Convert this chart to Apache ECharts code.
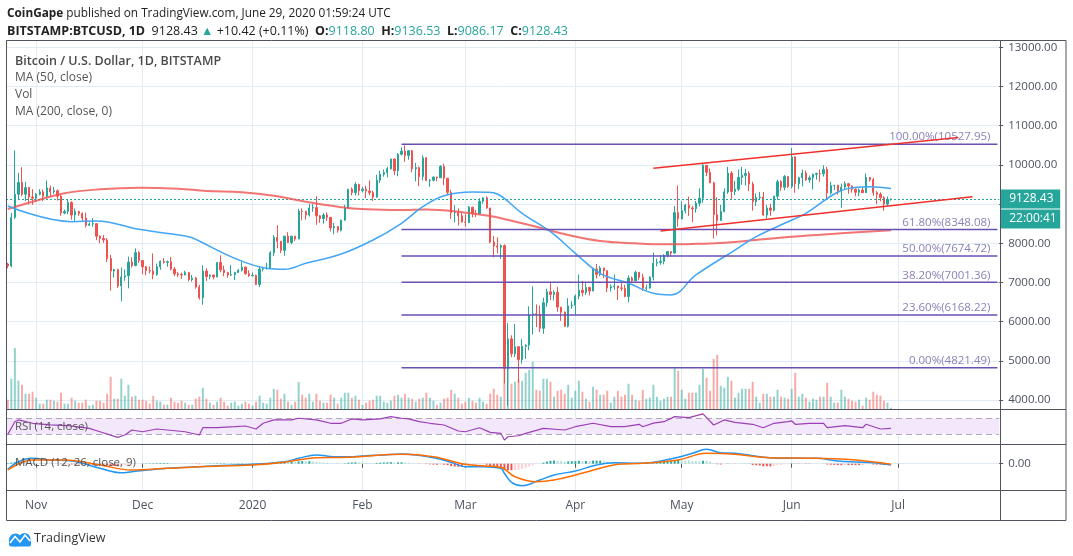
<!DOCTYPE html>
<html>
<head>
<meta charset="utf-8">
<title>BITSTAMP:BTCUSD 1D</title>
<script src="https://cdn.jsdelivr.net/npm/echarts@6.0.0/dist/echarts.min.js"></script>
<style>
html,body{margin:0;padding:0;background:#fff;}
#chart{width:1073px;height:556px;}
</style>
</head>
<body>
<div id="chart"></div>
<script>
// ---------------- data ----------------
const firstDay = '2019-10-24';
const lastDay = '2020-07-29';

const open = [
 7470,7420,8660,9250,9550,9250,9420,9180,
 9150,9250,9310,9200,9410,9310,9340,9200,8770,8810,9040,8720,8810,8760,8640,8460,8490,8500,8180,8120,8080,7610,7290,7330,6910,7140,7170,7520,7430,7760,
 7560,7400,7300,7290,7200,7400,7540,7510,7530,7340,7220,7200,7190,7250,7070,7110,6880,6610,7290,7150,7190,7140,7510,7320,7250,7190,7200,7250,7310,7390,7220,
 7170,7180,6950,7340,7350,7360,7760,8150,8050,7820,8180,8020,8180,8110,8820,8810,8720,8900,8910,8700,8630,8720,8660,8390,8430,8330,8590,8900,9380,9290,9500,
 9340,9380,9330,9290,9180,9610,9760,9800,9900,10150,9850,10270,10350,10240,10360,9900,9930,9700,10180,9600,9610,9690,9670,9960,9660,9300,8780,8790,8700,
 8540,8530,8920,8760,8750,9070,9160,8900,8030,7930,7900,7940,4800,5560,5180,5360,5030,5370,5400,6170,6200,6190,5830,6480,6760,6690,6750,6370,6240,5880,6400,
 6420,6650,6800,6740,6870,6780,7340,7200,7370,7300,6860,6890,6910,6860,6850,6640,7110,7040,7260,7130,6850,6860,7130,7490,7510,7540,7690,7790,7750,8780,
 8620,8830,8970,8900,8880,9020,9150,9990,9810,9540,8730,8580,8810,9310,9790,9320,9380,9680,9730,9780,9510,9060,9170,9180,8720,8900,8840,9200,9570,9430,9700,
 9450,10200,9520,9670,9790,9620,9670,9760,9780,9770,9880,9280,9470,9480,9340,9430,9520,9460,9380,9300,9360,9290,9680,9620,9290,9250,9160,9000,9118.8
];
const high = [
 7500,8770,10370,9800,9940,9560,9440,9380,
 9280,9380,9370,9600,9470,9440,9370,9240,8860,9130,9070,8880,8830,8790,8780,8530,8640,8500,8200,8210,8130,7700,7350,7350,7380,7330,7660,7640,7870,7800,
 7560,7420,7410,7740,7480,7560,7620,7560,7650,7390,7270,7250,7300,7270,7190,7140,6940,7440,7360,7200,7190,7510,7690,7430,7270,7440,7270,7340,7520,7410,7310,
 7250,7200,7410,7400,7500,7800,8210,8460,8050,8190,8280,8190,8190,8880,8890,8830,9000,9000,9200,8720,8770,8790,8670,8520,8430,8600,8980,9380,9420,9560,9520,
 9440,9470,9600,9340,9750,9850,9880,9950,10150,10160,10300,10450,10500,10380,10380,10050,9960,10240,10200,9640,9700,9700,9990,10030,9660,9360,8970,8890,8780,
 8740,8950,8930,8850,9150,9170,9200,8900,8180,8150,7970,7970,5960,5650,5940,5380,5550,5420,6390,6900,6440,6410,6610,6840,6980,6800,6880,6370,6260,6600,6520,
 6690,7200,7040,6980,6890,7370,7470,7420,7370,7310,6950,7200,6910,6980,6940,7180,7150,7300,7260,7220,6950,7160,7760,7610,7700,7720,7800,7790,8950,9470,
 9070,9000,9190,8950,9080,9400,10040,10000,9910,9570,9170,8980,9400,9950,9840,9590,9880,9950,9900,9840,9570,9270,9310,9310,8980,9010,9210,9620,9610,9740,9700,
 10430,10220,9690,9880,9860,9730,9780,9800,9880,9990,9950,9560,9490,9490,9520,9580,9540,9480,9400,9400,9430,9780,9690,9670,9330,9300,9200,9190,9136.53
];
const low = [
 7360,7390,8620,9120,9200,9080,8990,8980,
 9050,9220,9080,9150,9180,9260,9090,8700,8740,8740,8600,8570,8700,8570,8400,8440,8420,8080,8000,8010,7520,6790,7120,6860,6520,7040,6850,7380,7410,7500,
 7210,7180,7230,7080,7170,7320,7480,7400,7310,7160,7140,7090,7180,7030,7020,6840,6560,6430,7040,7080,7080,7130,7260,7160,7120,7160,7060,7240,7280,7200,7140,
 7150,6930,6880,7280,7330,7350,7670,7870,7750,7680,8000,7970,8060,8100,8580,8600,8680,8800,8470,8520,8500,8570,8300,8230,8270,8300,8570,8880,9220,9220,9220,
 9300,9150,9230,9080,9160,9540,9700,9680,9880,9740,9710,10240,10080,10130,9810,9580,9460,9600,9580,9440,9580,9580,9670,9480,9250,8620,8530,8450,8530,
 8420,8510,8660,8670,8740,9010,8880,8000,7640,7740,7600,4420,3850,5090,5100,4440,4930,5050,5270,5670,5860,5730,5690,6380,6550,6540,6250,6020,5860,5850,6330,
 6170,6570,6640,6680,6670,6780,7100,7160,7110,6750,6770,6810,6550,6780,6620,6490,7010,7030,7060,6790,6800,6840,7050,7410,7450,7460,7640,7660,7730,8420,
 8620,8760,8700,8540,8780,8940,9030,9710,9530,8120,8200,8570,8790,9260,9130,9230,9330,9490,9470,9330,8830,8950,9110,8700,8640,8700,8810,9110,9340,9350,9410,
 9400,9290,9380,9450,9590,9540,9370,9620,9570,9700,9100,9240,9360,9240,8910,9380,9260,9290,9200,9200,9280,9280,9570,9210,9000,9070,8830,8950,9086.17
];
const close = [
 7420,8660,9250,9550,9250,9420,9180,9150,
 9250,9310,9200,9410,9310,9340,9200,8770,8810,9040,8720,8810,8760,8640,8460,8490,8500,8180,8120,8080,7610,7290,7330,6910,7140,7170,7520,7430,7760,7560,
 7400,7300,7290,7200,7400,7540,7510,7530,7340,7220,7200,7190,7250,7070,7110,6880,6610,7290,7150,7190,7140,7510,7320,7250,7190,7200,7250,7310,7390,7220,7170,
 7180,6950,7340,7350,7360,7760,8150,8050,7820,8180,8020,8180,8110,8820,8810,8720,8900,8910,8700,8630,8720,8660,8390,8430,8330,8590,8900,9380,9290,9500,9340,
 9380,9330,9290,9180,9610,9760,9800,9900,10150,9850,10270,10350,10240,10360,9900,9930,9700,10180,9600,9610,9690,9670,9960,9660,9300,8780,8790,8700,8540,
 8530,8920,8760,8750,9070,9160,8900,8030,7930,7900,7940,4800,5560,5180,5360,5030,5370,5400,6170,6200,6190,5830,6480,6760,6690,6750,6370,6240,5880,6400,6420,
 6650,6800,6740,6870,6780,7340,7200,7370,7300,6860,6890,6910,6860,6850,6640,7110,7040,7260,7130,6850,6860,7130,7490,7510,7540,7690,7790,7750,8780,8620,
 8830,8970,8900,8880,9020,9150,9990,9810,9540,8730,8580,8810,9310,9790,9320,9380,9680,9730,9780,9510,9060,9170,9180,8720,8900,8840,9200,9570,9430,9700,9450,
 10200,9520,9670,9790,9620,9670,9760,9780,9770,9880,9280,9470,9480,9340,9430,9520,9460,9380,9300,9360,9290,9680,9620,9290,9250,9160,9000,9118.8,9128.43
];
// volume, thousand BTC
const volume = [
 5.6,18.2,36.8,17,14.6,9.2,9.2,10.4,
 6.8,3.2,3.2,5.6,5.6,5,4.4,9.8,3.2,3.2,6.8,5,3.8,3.8,5.6,2,2.6,5,5,3.8,9.2,19.4,6.2,6.2,18.2,8,14.6,7.4,8,5.6,
 5.6,5,3.2,8,5,4.4,2.6,2.6,6.8,4.4,3.8,5,3.8,2.6,2.6,6.2,7.4,12.8,6.2,3.8,2.6,4.4,6.8,4.4,2,3.8,4.4,2,3.2,4.4,3.2,
 2,4.4,8,3.8,3.2,6.8,12.2,11.6,6.2,9.2,4.4,2.6,4.4,16.4,8.6,6.8,9.2,4.4,9.2,5,3.8,3.8,8.6,6.8,3.2,6.8,9.8,9.8,6.8,8,5.6,
 2.6,3.8,5,5.6,8,8,4.4,3.8,5,8,8.6,6.8,9.2,6.8,6.2,4.4,6.2,6.8,9.8,6.8,5,2.6,3.8,6.2,6.8,11.6,9.2,6.8,3.2,
 4.4,6.8,5,3.8,6.8,4.4,3.2,9.2,12.2,8.6,7.4,24,26,15.2,16.4,17.6,17,21.8,23.6,28.4,11.6,11,18.2,18.2,16.4,7.4,11,11.6,9.2,14.6,6.8,
 11,17,10.4,6.2,4.4,13.4,11.6,8.6,8.6,11,3.8,7.4,11,7.4,8.6,15.2,8.6,5.6,5,11.6,6.2,6.8,14.6,7.4,5,6.2,7.4,7.4,25.4,23,
 11.6,6.2,9.8,9.8,9.8,14.6,24.2,18.8,11,30.2,32.6,14,12.8,19.4,17,6.8,9.8,12.2,12.2,12.2,16.4,7.4,3.8,9.2,9.2,7.4,7.4,11.6,7.4,6.8,6.2,
 12.2,21.8,7.4,9.2,6.8,4.4,6.2,5.6,7.4,7.4,15.8,7.4,3.8,3.8,11.6,7.4,6.2,5,4.4,5.6,2,6.8,5.6,10.4,8.6,8,5,3.8,0.8
];
// MACD histogram (USD)
const macdHist = [
 20,40,60,70,60,50,40,30,
 25,20,15,15,10,5,0,-20,-25,-20,-30,-30,-30,-35,-40,-40,-40,-50,-55,-55,-70,-90,-90,-100,-90,-70,-50,-30,-10,0,
 5,10,15,15,20,25,25,25,20,15,10,5,5,0,-5,-10,-20,0,5,10,10,15,15,15,10,10,10,15,15,10,5,
 5,0,10,15,20,35,60,70,70,75,70,70,65,90,100,95,95,85,70,55,45,35,15,5,-5,0,15,40,45,55,50,
 45,40,30,20,30,40,45,50,60,45,50,55,45,40,20,5,-10,0,-15,-25,-35,-40,-30,-40,-60,-90,-110,-120,-120,
 -110,-80,-70,-60,-40,-20,-40,-90,-130,-150,-150,-250,-250,-250,-240,-230,-200,-170,-110,-60,-20,0,40,80,110,120,110,100,80,90,95,
 100,110,105,105,100,120,120,120,110,80,65,55,40,30,15,25,25,30,25,10,0,5,30,50,65,80,90,95,140,140,
 135,130,120,100,95,90,115,110,80,20,-20,-30,-10,10,0,-5,0,5,5,-10,-50,-60,-70,-100,-100,-105,-90,-60,-50,-25,-20,
 15,-10,-10,-5,-10,-10,-5,0,0,5,-30,-40,-45,-55,-60,-55,-55,-55,-55,-55,-50,-25,-20,-30,-35,-35,-40,-35,-30
];

const ma50Dates = ['2019-10-24','2019-11-11','2019-11-18','2019-11-30','2019-12-13','2019-12-15','2019-12-27','2020-01-05','2020-01-10','2020-01-16','2020-01-26','2020-02-04','2020-02-12','2020-02-18','2020-02-24','2020-03-03','2020-03-07','2020-03-10','2020-03-17','2020-03-25','2020-04-01','2020-04-08','2020-04-16','2020-04-23','2020-04-28','2020-05-05','2020-05-16','2020-05-22','2020-05-30','2020-06-05','2020-06-13','2020-06-17','2020-06-23','2020-06-29'];
const ma50Values = [8950,8550,8570,8356,8185,8140,7615,7360,7335,7488,7725,8083,8509,8932,9213,9307,9300,9256,8764,8294,7743,7233,6978,6722,6679,7190,7827,8167,8509,8764,9256,9400,9442,9395];

const ma200Dates = ['2019-10-24','2019-10-31','2019-11-09','2019-11-19','2019-11-30','2019-12-11','2019-12-19','2019-12-29','2020-01-07','2020-01-16','2020-01-26','2020-02-02','2020-02-12','2020-02-19','2020-02-28','2020-03-08','2020-03-14','2020-03-21','2020-03-30','2020-04-08','2020-04-18','2020-04-27','2020-05-05','2020-05-13','2020-06-01','2020-06-15','2020-06-29'];
const ma200Values = [8874,9060,9274,9376,9417,9392,9333,9300,9213,9060,8917,8866,8849,8860,8806,8695,8575,8422,8210,8057,7998,7973,7985,8010,8167,8253,8330];

const rsiDates = ['2019-10-24','2019-10-26','2019-10-27','2019-10-31','2019-11-05','2019-11-10','2019-11-16','2019-11-19','2019-11-24','2019-11-26','2019-11-28','2019-12-01','2019-12-05','2019-12-08','2019-12-13','2019-12-17','2019-12-18','2019-12-22','2019-12-27','2019-12-30','2020-01-02','2020-01-04','2020-01-07','2020-01-12','2020-01-14','2020-01-19','2020-01-23','2020-01-26','2020-01-29','2020-02-01','2020-02-06','2020-02-09','2020-02-12','2020-02-14','2020-02-17','2020-02-20','2020-02-24','2020-02-28','2020-03-01','2020-03-05','2020-03-08','2020-03-11','2020-03-12','2020-03-13','2020-03-16','2020-03-18','2020-03-23','2020-03-29','2020-04-01','2020-04-06','2020-04-11','2020-04-15','2020-04-19','2020-04-20','2020-04-23','2020-04-26','2020-04-29','2020-05-03','2020-05-07','2020-05-10','2020-05-13','2020-05-16','2020-05-21','2020-05-24','2020-05-27','2020-05-31','2020-06-01','2020-06-02','2020-06-06','2020-06-10','2020-06-11','2020-06-16','2020-06-21','2020-06-22','2020-06-26','2020-06-29'];
const rsiValues = [30,61.5,65.8,57.5,53.3,51.5,45,36.5,22.5,28.3,40.8,36.5,43.3,40.8,36.5,28.3,46.5,46.5,49,50.8,43.3,57.5,65.8,65.8,70,65.8,57.5,57.5,68.3,65.8,68.3,74,70,68.3,61.5,57.5,53.3,38.3,36.5,46.5,35,32.5,15.8,24,26.5,32.5,45,40.8,49,57.5,49,49,55,49,58,61.5,74,71.5,80.8,53.3,65.8,59.9,55,46.5,57.5,61.5,63.3,55,57.5,57.5,46.5,51.5,46.5,55,43.3,45];

const macdDates = ['2019-10-24','2019-10-27','2019-10-31','2019-11-05','2019-11-11','2019-11-19','2019-11-25','2019-11-28','2019-12-08','2019-12-17','2019-12-27','2020-01-01','2020-01-10','2020-01-14','2020-01-19','2020-01-24','2020-01-28','2020-02-02','2020-02-07','2020-02-12','2020-02-14','2020-02-21','2020-02-26','2020-03-01','2020-03-06','2020-03-11','2020-03-12','2020-03-14','2020-03-17','2020-03-22','2020-03-26','2020-04-01','2020-04-07','2020-04-12','2020-04-19','2020-04-24','2020-04-30','2020-05-04','2020-05-08','2020-05-12','2020-05-16','2020-05-23','2020-05-28','2020-06-02','2020-06-08','2020-06-14','2020-06-19','2020-06-24','2020-06-29'];
const macdValues = [-216,77,208,143,104,-178,-347,-309,-178,-116,-50,-23,77,208,336,270,270,309,336,374,363,232,54,-116,-116,-178,-371,-718,-849,-629,-436,-282,-50,39,15,77,247,401,556,425,401,270,208,208,208,104,66,39,-50];

const signalDates = ['2019-10-24','2019-10-31','2019-11-09','2019-11-19','2019-11-28','2019-12-08','2019-12-17','2020-01-01','2020-01-10','2020-01-19','2020-01-28','2020-02-12','2020-02-21','2020-03-01','2020-03-11','2020-03-12','2020-03-15','2020-03-21','2020-03-26','2020-04-01','2020-04-08','2020-04-13','2020-04-20','2020-04-30','2020-05-08','2020-05-16','2020-05-26','2020-06-08','2020-06-19','2020-06-29'];
const signalValues = [-243,143,143,-50,-243,-178,-116,-50,54,232,247,363,270,-23,-139,-200,-502,-695,-629,-436,-178,-23,15,143,401,363,232,208,143,-23];

const fibStart = '2020-02-12';
const fibEnd = '2020-07-29';
const fibRatios = ['100.00%','61.80%','50.00%','38.20%','23.60%','0.00%'];
const fibLevels = [10527.95,8348.08,7674.72,7001.36,6168.22,4821.49];

const channelUpper = [['2020-04-23',9915],['2020-07-18',10700]];
const channelLower = [['2020-04-25',8312],['2020-07-22',9188]];

const lastPrice = 9128.43;
const countdown = '22:00:41';

const tickDates = ['2019-11-01','2019-12-01','2020-01-01','2020-02-01','2020-03-01','2020-04-01','2020-05-01','2020-06-01','2020-07-01'];
const tickLabels = ['Nov','Dec','2020','Feb','Mar','Apr','May','Jun','Jul'];

// ---------------- chart ----------------
const dates = [];
(function () {
  let t = Date.parse(firstDay + 'T00:00:00Z');
  const end = Date.parse(lastDay + 'T00:00:00Z');
  while (t <= end) { dates.push(new Date(t).toISOString().slice(0, 10)); t += 86400000; }
})();

const UP = '#26a69a', DOWN = '#ef5350';
const UP_VOL = 'rgba(38,166,154,0.5)', DOWN_VOL = 'rgba(239,83,80,0.5)';
const GRID = '#e1ecf2';
const AXIS_TXT = '#4c525e';
const FF = "'Open Sans', 'Noto Sans', sans-serif";
const FIB = '#6a4fb5';

const isTick = (i, v) => tickDates.indexOf(v) >= 0;
const pairs = (ds, vs) => ds.map((d, i) => [d, vs[i]]);

const candleData = close.map((c, i) => [open[i], c, low[i], high[i]]);
const volData = volume.map((v, i) => ({ value: v, itemStyle: { color: close[i] >= open[i] ? UP_VOL : DOWN_VOL } }));
const histData = macdHist.map((h, i) => {
  const prev = i > 0 ? macdHist[i - 1] : h;
  let col;
  if (h >= 0) col = h >= prev ? '#26a69a' : '#b2dfdb';
  else col = h <= prev ? '#ef5350' : '#ffcdd2';
  return { value: h, itemStyle: { color: col } };
});

const gridL = 6, gridR = 73.8;
const xAxes = [0, 1, 2].map(g => ({
  type: 'category', gridIndex: g, data: dates, boundaryGap: true,
  axisLine: { show: false },
  axisTick: g === 2 ? { show: true, interval: isTick, alignWithLabel: true, length: 4, lineStyle: { color: '#50535e' } } : { show: false },
  axisLabel: g === 2 ? { show: true, interval: isTick, margin: 10, color: AXIS_TXT, fontSize: 12, fontFamily: FF,
      formatter: v => { const k = tickDates.indexOf(v); return k >= 0 ? tickLabels[k] : ''; } } : { show: false },
  splitLine: { show: true, interval: isTick, alignWithLabel: true, lineStyle: { color: GRID, width: 1 } }
}));

const priceBox = {
  show: true, position: 'end', distance: 1, color: '#fff', backgroundColor: UP, padding: [3, 5, 2, 9],
  width: 46, fontSize: 12, fontFamily: FF, lineHeight: 14
};

const series = [];
series.push({
  name: 'Vol', type: 'bar', xAxisIndex: 0, yAxisIndex: 1, data: volData, barWidth: '55%', silent: true, z: 1
});
series.push({
  name: 'BTCUSD', type: 'candlestick', xAxisIndex: 0, yAxisIndex: 0, data: candleData, barWidth: '50%', clip: false, z: 3,
  itemStyle: { color: UP, color0: DOWN, borderColor: UP, borderColor0: DOWN, borderWidth: 1 },
  markLine: {
    silent: true, symbol: ['none', 'none'], animation: false,
    lineStyle: { color: UP, type: [2, 2], width: 1 },
    data: [
      { yAxis: lastPrice, label: Object.assign({}, priceBox, { formatter: lastPrice.toFixed(2) }) },
      { yAxis: lastPrice, lineStyle: { color: 'rgba(0,0,0,0)', width: 0 },
        label: Object.assign({}, priceBox, { formatter: countdown, offset: [0, 20] }) }
    ]
  }
});
series.push({ name: 'MA 200', type: 'line', xAxisIndex: 0, yAxisIndex: 0, data: pairs(ma200Dates, ma200Values), smooth: 0.4,
  symbol: 'none', silent: true, z: 5, lineStyle: { color: 'rgba(239,83,80,0.8)', width: 2 } });
series.push({ name: 'MA 50', type: 'line', xAxisIndex: 0, yAxisIndex: 0, data: pairs(ma50Dates, ma50Values), smooth: 0.4,
  symbol: 'none', silent: true, z: 5, lineStyle: { color: '#42a5f5', width: 1.5 } });
fibLevels.forEach((v, k) => {
  series.push({ name: 'Fib ' + fibRatios[k], type: 'line', xAxisIndex: 0, yAxisIndex: 0, symbol: 'none', silent: true, z: 6,
    data: [[fibStart, v], [fibEnd, v]], lineStyle: { color: FIB, width: 1.5 },
    endLabel: { show: true, formatter: fibRatios[k] + '(' + v.toFixed(2) + ')', align: 'right', verticalAlign: 'bottom',
      offset: [-7, -1], distance: 0, color: '#8c80b8', fontSize: 11.5, fontFamily: FF } });
});
[channelUpper, channelLower].forEach((c, k) => {
  series.push({ name: 'Channel ' + k, type: 'line', xAxisIndex: 0, yAxisIndex: 0, symbol: 'none', silent: true, z: 7,
    data: c, lineStyle: { color: '#f0302c', width: 1.5 } });
});
series.push({ name: 'RSI', type: 'line', xAxisIndex: 1, yAxisIndex: 2, data: pairs(rsiDates, rsiValues), symbol: 'none', silent: true, z: 5,
  lineStyle: { color: '#9c3fb5', width: 1.2 },
  markArea: { silent: true, itemStyle: { color: '#f3e8fb' }, data: [[{ yAxis: 30 }, { yAxis: 70 }]] },
  markLine: { silent: true, symbol: ['none', 'none'], label: { show: false }, lineStyle: { color: '#b0a7ba', type: [6, 4], width: 1 },
    data: [{ yAxis: 70 }, { yAxis: 30 }] } });
series.push({ name: 'Histogram', type: 'bar', xAxisIndex: 2, yAxisIndex: 3, data: histData, barWidth: '55%', silent: true, z: 2 });
series.push({ name: 'MACD', type: 'line', xAxisIndex: 2, yAxisIndex: 3, data: pairs(macdDates, macdValues), smooth: 0.4, symbol: 'none', silent: true, z: 4,
  lineStyle: { color: '#2196f3', width: 1.5 } });
series.push({ name: 'Signal', type: 'line', xAxisIndex: 2, yAxisIndex: 3, data: pairs(signalDates, signalValues), smooth: 0.4, symbol: 'none', silent: true, z: 4,
  lineStyle: { color: '#ff6d00', width: 1.5 } });

function txt(x, y, text, style) {
  return { type: 'text', x: x, y: y, silent: true, z: 30,
    style: Object.assign({ text: text, fontFamily: FF, fontSize: 12, fill: '#555', verticalAlign: 'middle', align: 'left' }, style || {}) };
}
function line(x1, y1, x2, y2, color) {
  return { type: 'line', silent: true, z: 40, shape: { x1: x1, y1: y1, x2: x2, y2: y2 }, style: { stroke: color || '#50535e', lineWidth: 1 } };
}
const B = (s) => ({ fontWeight: 'bold', fontFamily: FF, fontSize: s, fill: '#222' });
const T = (s) => ({ fontFamily: FF, fontSize: s, fill: UP });
const N = (s) => ({ fontFamily: FF, fontSize: s, fill: '#222' });

const graphics = [
  txt(7, 14, '{b|CoinGape} published on TradingView.com, June 29, 2020 01:59:24 UTC', { fontSize: 11.8, fill: '#222', rich: { b: B(11.8) } }),
  txt(7, 31, '{b|BITSTAMP:BTCUSD, 1D}  {n|9128.43} {g|▲} {n|+10.42 (+0.11%)}  {b|O:}{g|9118.80}  {b|H:}{g|9136.53}  {b|L:}{g|9086.17}  {b|C:}{g|9128.43}',
      { fontSize: 12.5, fill: '#222', rich: { b: B(12.5), g: T(12.5), n: N(12.5) } }),
  txt(15, 61, 'Bitcoin / U.S. Dollar, 1D, BITSTAMP', { fontSize: 12.5, fontWeight: 600, fill: '#4a4a4a' }),
  txt(15, 78, 'MA (50, close)', { fontSize: 12, fill: '#555' }),
  txt(15, 95, 'Vol', { fontSize: 12, fill: '#555' }),
  txt(15, 111.5, 'MA (200, close, 0)', { fontSize: 12, fill: '#555' }),
  txt(15, 426.5, 'RSI (14, close)', { fontSize: 11.5, fill: '#555' }),
  txt(15, 462.5, 'MACD (12, 26, close, 9)', { fontSize: 11.5, fill: '#555' }),
  // frame & pane separators
  { type: 'rect', silent: true, z: 40, shape: { x: 6.5, y: 40.5, width: 1059.5, height: 480 }, style: { fill: 'none', stroke: '#50535e', lineWidth: 1 } },
  line(6.5, 409.5, 1066, 409.5),
  line(6.5, 444.5, 1066, 444.5),
  line(6.5, 490.5, 1066, 490.5),
  line(1000.5, 40.5, 1000.5, 520.5),
  // TradingView logo
  { type: 'group', x: 0, y: 0, silent: true, z: 30, children: [
    { type: 'circle', shape: { cx: 15.5, cy: 540, r: 6.5 }, style: { fill: '#2196f3' } },
    { type: 'circle', shape: { cx: 24.5, cy: 539, r: 6 }, style: { fill: '#2196f3' } },
    { type: 'rect', shape: { x: 9, y: 540, width: 22, height: 6.5, r: 2 }, style: { fill: '#2196f3' } },
    { type: 'polyline', shape: { points: [[10, 543], [15, 536.5], [20, 542], [25, 535], [30, 541]] }, style: { stroke: '#fff', lineWidth: 1.6, fill: 'none' } }
  ] },
  txt(34, 538, 'TradingView', { fontSize: 12.5, fill: '#333' })
];

const option = {
  animation: false,
  backgroundColor: '#ffffff',
  textStyle: { fontFamily: FF },
  grid: [
    { left: gridL, right: gridR, top: 40, height: 369 },
    { left: gridL, right: gridR, top: 409, height: 35 },
    { left: gridL, right: gridR, top: 444, height: 46 }
  ],
  xAxis: xAxes,
  yAxis: [
    { type: 'value', gridIndex: 0, position: 'right', min: 3770, max: 13186, splitNumber: 9, minInterval: 1000, maxInterval: 1000,
      axisLine: { show: false }, axisTick: { show: true, length: 4, lineStyle: { color: '#50535e' } },
      axisLabel: { margin: 9, color: AXIS_TXT, fontSize: 11.5, fontFamily: FF, showMinLabel: false, showMaxLabel: false, formatter: v => v.toFixed(2) },
      splitLine: { show: true, lineStyle: { color: GRID, width: 1 } } },
    { type: 'value', gridIndex: 0, min: 0, max: 222.3, show: false },
    { type: 'value', gridIndex: 1, min: 6, max: 93, show: false },
    { type: 'value', gridIndex: 2, position: 'right', min: -1015, max: 760, interval: 1015,
      axisLine: { show: false }, axisTick: { show: true, length: 4, lineStyle: { color: '#50535e' } },
      axisLabel: { margin: 9, color: AXIS_TXT, fontSize: 11.5, fontFamily: FF, showMinLabel: false, showMaxLabel: false, formatter: v => v === 0 ? '0.00' : '' },
      splitLine: { show: true, lineStyle: { color: GRID, width: 1 } } }
  ],
  series: series,
  graphic: graphics
};

const chart = echarts.init(document.getElementById('chart'), null, { renderer: 'canvas' });
chart.setOption(option);
</script>
</body>
</html>
